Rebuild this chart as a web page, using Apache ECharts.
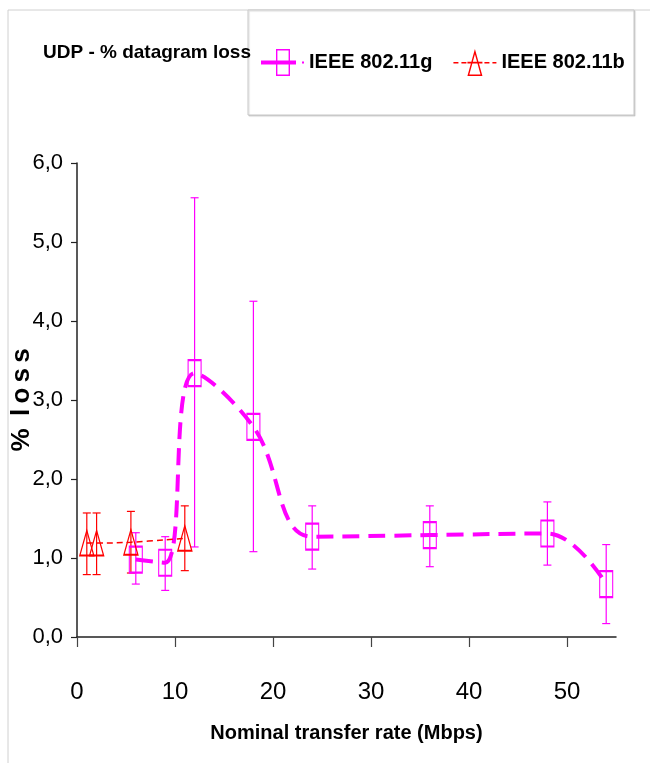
<!DOCTYPE html>
<html>
<head>
    <meta charset="utf-8">
    <title>UDP - % datagram loss</title>
    <script src="https://cdn.jsdelivr.net/npm/echarts@6.0.0/dist/echarts.min.js"></script>
    <style>
        html, body { margin: 0; padding: 0; background: #fff; }
        #chart { width: 650px; height: 763px; }
    </style>
</head>
<body>
    <div id="chart"></div>
    <script>
        // 802.11g
        const rateG = [6, 9, 12, 18, 24, 36, 48, 54];
        const lossG = [0.98, 0.94, 3.34, 2.66, 1.27, 1.29, 1.31, 0.67];
        const lowG = [0.67, 0.59, 1.14, 1.08, 0.86, 0.89, 0.91, 0.17];
        const highG = [1.32, 1.27, 5.56, 4.25, 1.66, 1.66, 1.71, 1.17];

        // 802.11b
        const rateB = [1, 2, 5.5, 11];
        const lossB = [1.19, 1.19, 1.20, 1.25];
        const lowB = [0.79, 0.79, 0.81, 0.84];
        const highB = [1.57, 1.57, 1.59, 1.66];

        const xTicks = [0, 10, 20, 30, 40, 50];

        const FONT = "'Liberation Sans', Arial, sans-serif";
        const MAGENTA = '#ff00ff';
        const RED = '#ff0000';

        const chart = echarts.init(document.getElementById('chart'));

        function errorBars(color) {
            return function (params, api) {
                const x = api.value(0);
                const lo = api.coord([x, api.value(1)]);
                const hi = api.coord([x, api.value(2)]);
                const w = 4;
                const style = { stroke: color, lineWidth: 1.2 };
                return {
                    type: 'group',
                    children: [
                        { type: 'line', shape: { x1: lo[0], y1: lo[1], x2: hi[0], y2: hi[1] }, style: style },
                        { type: 'line', shape: { x1: lo[0] - w, y1: lo[1], x2: lo[0] + w, y2: lo[1] }, style: style },
                        { type: 'line', shape: { x1: hi[0] - w, y1: hi[1], x2: hi[0] + w, y2: hi[1] }, style: style }
                    ]
                };
            };
        }

        // legend icons: line + marker, box 43 x 27
        const iconG = 'path://M0 11.5H15V15.5H0Z' +
            'M15 0H29V27H15Z M16.4 1.4V25.6H27.6V1.4Z' +
            'M16.4 11.5H35V15.5H16.4Z M41 12.5H43V14.5H41Z';
        const iconB = 'path://M0 13H5V14.6H0Z M8 13H13V14.6H8Z' +
            'M21.5 0L29 27H14Z M21.5 5.2L15.9 25.6H27.1Z' +
            'M14 12.8H29V14.4H14Z' +
            'M31 13H36V14.6H31Z M39 13H43V14.6H39Z';

        const option = {
            backgroundColor: '#fff',
            animation: false,
            title: {
                text: 'UDP - % datagram loss',
                left: 43,
                top: 43,
                padding: 0,
                textStyle: { fontFamily: FONT, fontSize: 19, fontWeight: 'bold', color: '#000' }
            },
            graphic: [
                {
                    type: 'rect',
                    shape: { x: 8, y: 10, width: 660, height: 800 },
                    style: { fill: 'none', stroke: '#d0d0d0', lineWidth: 1 },
                    z: -10
                },
                {
                    type: 'rect',
                    shape: { x: 248, y: 10, width: 386, height: 105 },
                    style: {
                        fill: '#fff', stroke: '#c8c8c8', lineWidth: 1,
                        shadowColor: 'rgba(0,0,0,0.15)', shadowOffsetX: 1, shadowOffsetY: 1, shadowBlur: 1
                    },
                    z: -5
                }
            ],
            legend: {
                left: 261,
                top: 49,
                orient: 'horizontal',
                width: 380,
                itemWidth: 43,
                itemHeight: 27,
                itemGap: 21,
                padding: 0,
                itemStyle: { borderWidth: 0 },
                textStyle: { fontFamily: FONT, fontSize: 20, fontWeight: 'bold', color: '#000' },
                data: [
                    { name: 'IEEE 802.11g', icon: iconG, itemStyle: { color: MAGENTA, borderWidth: 0 } },
                    { name: 'IEEE 802.11b', icon: iconB, itemStyle: { color: RED, borderWidth: 0 } }
                ]
            },
            grid: { left: 77, right: 34, top: 163, bottom: 126, outerBoundsMode: 'none', containLabel: false },
            xAxis: {
                type: 'value',
                min: 0,
                max: 55,
                interval: 10,
                name: 'Nominal transfer rate (Mbps)',
                nameLocation: 'middle',
                nameGap: 86,
                nameMoveOverlap: false,
                nameTextStyle: { fontFamily: FONT, fontSize: 20, fontWeight: 'bold', color: '#000' },
                axisLine: { onZero: false, lineStyle: { color: '#222', width: 1.5 } },
                axisTick: { show: true, length: 10, customValues: xTicks, lineStyle: { color: '#444', width: 1.2 } },
                axisLabel: { customValues: xTicks, margin: 43, fontFamily: FONT, fontSize: 24, color: '#000' },
                splitLine: { show: false }
            },
            yAxis: {
                type: 'value',
                min: 0,
                max: 6,
                interval: 1,
                name: '%\u2009 l\u2009o\u2009s\u2009s',
                nameLocation: 'middle',
                nameGap: 42,
                nameMoveOverlap: false,
                nameRotate: 90,
                nameTextStyle: { fontFamily: FONT, fontSize: 26, fontWeight: 'bold', color: '#000' },
                axisLine: { show: true, lineStyle: { color: '#222', width: 1.5 } },
                axisTick: { show: true, length: 6, lineStyle: { color: '#222', width: 1.2 } },
                axisLabel: {
                    margin: 14,
                    fontFamily: FONT,
                    fontSize: 22,
                    color: '#000',
                    formatter: v => v.toFixed(1).replace('.', ',')
                },
                splitLine: { show: false }
            },
            series: [
                {
                    name: 'g errors',
                    type: 'custom',
                    renderItem: errorBars(MAGENTA),
                    data: rateG.map((r, i) => [r, lowG[i], highG[i]]),
                    z: 1
                },
                {
                    name: 'b errors',
                    type: 'custom',
                    renderItem: errorBars(RED),
                    data: rateB.map((r, i) => [r, lowB[i], highB[i]]),
                    z: 1
                },
                {
                    name: 'IEEE 802.11g',
                    type: 'line',
                    smooth: 0.4,
                    data: rateG.map((r, i) => [r, lossG[i]]),
                    symbol: 'rect',
                    symbolSize: [13, 26],
                    itemStyle: { color: 'rgba(0,0,0,0)', borderColor: MAGENTA, borderWidth: 1.5 },
                    lineStyle: { color: MAGENTA, width: 4, type: [17, 9] },
                    z: 2
                },
                {
                    name: 'IEEE 802.11b',
                    type: 'line',
                    smooth: 0.4,
                    data: rateB.map((r, i) => [r, lossB[i]]),
                    symbol: 'triangle',
                    symbolSize: [14, 25],
                    itemStyle: { color: 'rgba(0,0,0,0)', borderColor: RED, borderWidth: 1.5 },
                    lineStyle: { color: RED, width: 1.5, type: [6, 4] },
                    z: 3
                }
            ]
        };

        chart.setOption(option);

        window.addEventListener('resize', function () {
            chart.resize();
        });
    </script>
</body>
</html>
